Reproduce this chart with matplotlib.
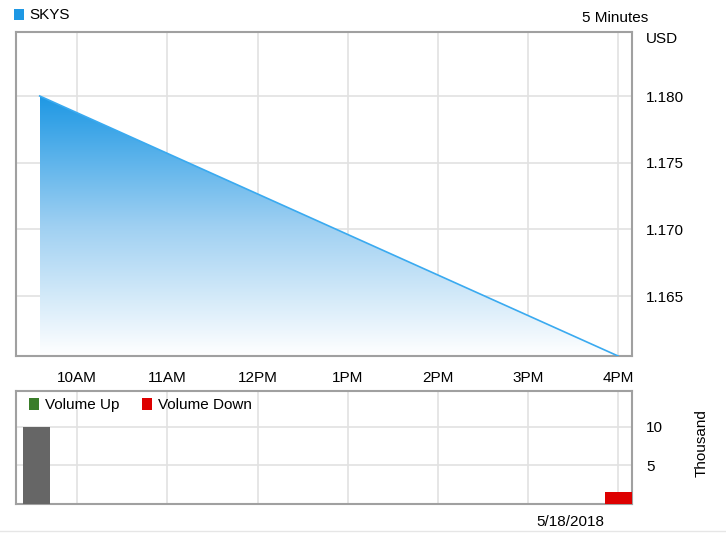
import matplotlib
matplotlib.use("Agg")
import matplotlib.pyplot as plt
import numpy as np
from matplotlib.colors import LinearSegmentedColormap
from matplotlib.patches import Polygon

plt.rcParams['font.family'] = ['Liberation Sans', 'DejaVu Sans']

# Data (time in hours of day)
price_times = [9.583, 16.0]
price_values = [1.180, 1.1605]
vol_times = [9.55, 16.0]
vol_values = [10.0, 1.6]          # thousand
vol_colors = ['#666666', '#dd0000']
hour_ticks = [10, 11, 12, 13, 14, 15, 16]
hour_labels = ['10AM', '11AM', '12PM', '1PM', '2PM', '3PM', '4PM']
price_ticks = [1.165, 1.170, 1.175, 1.180]
vol_ticks = [5, 10]

W, H = 726, 533
fig = plt.figure(figsize=(W / 100, H / 100), dpi=100)

def ax_rect(x0, y0, x1, y1):
    return [x0 / W, 1 - y1 / H, (x1 - x0) / W, (y1 - y0) / H]

xlim = (9.32, 16.155)
grid_c = '#e2e2e2'
frame_c = '#a0a0a0'

ax = fig.add_axes(ax_rect(16, 32, 632, 356))
ax.set_xlim(*xlim)
ax.set_ylim(1.1605, 1.1848)

# gradient fill
cmap = LinearSegmentedColormap.from_list('g', ['#ffffff', '#9fd0f2', '#1e98e4'])
grad = np.linspace(0, 1, 256).reshape(-1, 1)
ymin = 1.1605
im = ax.imshow(grad, aspect='auto', cmap=cmap, origin='lower',
               extent=[price_times[0], price_times[-1], ymin, max(price_values)],
               zorder=2)
poly_pts = [(price_times[0], ymin)] + list(zip(price_times, price_values)) + [(price_times[-1], ymin)]
poly = Polygon(poly_pts, closed=True, facecolor='none', edgecolor='none', transform=ax.transData)
ax.add_patch(poly)
im.set_clip_path(poly)
ax.plot(price_times, price_values, color='#3aaaf0', lw=1.2, zorder=3)

ax.set_xticks(hour_ticks)
ax.set_xticklabels(hour_labels, fontsize=11)
ax.set_yticks(price_ticks)
ax.set_yticklabels(['%.3f' % v for v in price_ticks], fontsize=11)
ax.yaxis.tick_right()
ax.tick_params(axis='both', length=0, colors='#000000')
ax.tick_params(axis='y', pad=10)
ax.tick_params(axis='x', pad=11)
ax.grid(True, color=grid_c, lw=1.2, zorder=0)
ax.set_axisbelow(True)
for s in ax.spines.values():
    s.set_color(frame_c)
    s.set_linewidth(1.5)

# volume panel
axv = fig.add_axes(ax_rect(16, 391, 632, 504))
axv.set_xlim(*xlim)
axv.set_ylim(0, 14.6)
axv.bar(vol_times, vol_values, width=0.3, color=vol_colors, zorder=3)
axv.set_xticks(hour_ticks)
axv.set_xticklabels([])
axv.set_yticks(vol_ticks)
axv.set_yticklabels([str(v) for v in vol_ticks], fontsize=11)
axv.yaxis.tick_right()
axv.tick_params(axis='both', length=0)
axv.tick_params(axis='y', pad=10)
axv.grid(True, color=grid_c, lw=1.2, zorder=0)
axv.set_axisbelow(True)
for s in axv.spines.values():
    s.set_color(frame_c)
    s.set_linewidth(1.5)

# texts
def px(x, y):
    return x / W, 1 - y / H

fig.patches.append(plt.Rectangle(px(14, 20), 10 / W, 11 / H, transform=fig.transFigure,
                                 facecolor='#1e98e4', edgecolor='none'))
fig.text(*px(29, 15), 'SKYS', fontsize=11, va='center', ha='left')
fig.text(*px(648, 18), '5 Minutes', fontsize=11, va='center', ha='right')
fig.text(*px(646, 39), 'USD', fontsize=11, va='center', ha='left')

fig.patches.append(plt.Rectangle(px(29, 410), 10 / W, 12 / H, transform=fig.transFigure,
                                 facecolor='#3a7d2a', edgecolor='none'))
fig.text(*px(45, 405), 'Volume Up', fontsize=11, va='center', ha='left')
fig.patches.append(plt.Rectangle(px(142, 410), 10 / W, 12 / H, transform=fig.transFigure,
                                 facecolor='#dd0000', edgecolor='none'))
fig.text(*px(158, 405), 'Volume Down', fontsize=11, va='center', ha='left')

fig.text(*px(702, 443), 'Thousand', fontsize=11, va='center', ha='center', rotation=90)
fig.text(*px(570, 522), '5/18/2018', fontsize=11, va='center', ha='center')

fig.lines.append(plt.Line2D([0, 1], [1 - 531 / H, 1 - 531 / H], transform=fig.transFigure,
                            color='#e6e6e6', lw=1))

fig.savefig('out.png', dpi=100)
